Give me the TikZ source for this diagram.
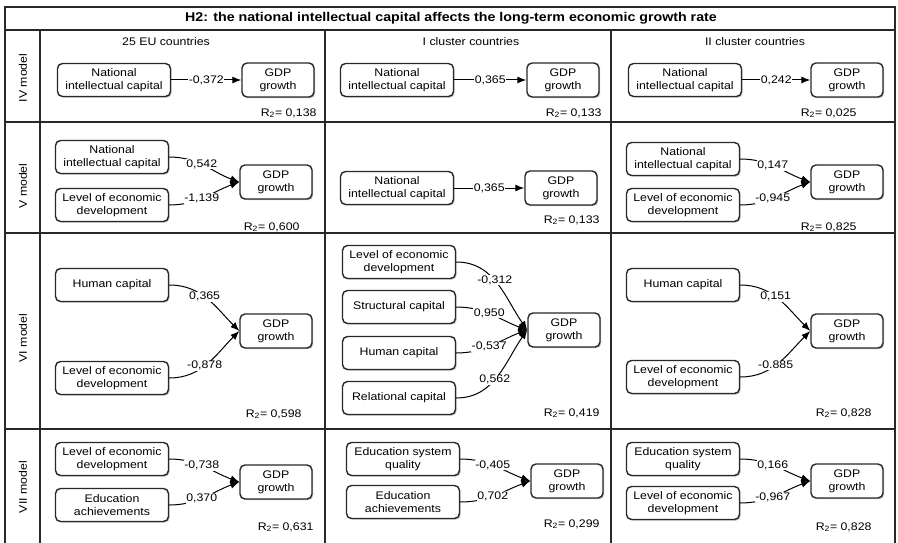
\documentclass[tikz,border=0pt]{standalone}
\usepackage{fontspec}
\setmainfont{Liberation Sans}[FakeStretch=1.12]
\usetikzlibrary{arrows.meta,shadows}
\definecolor{framegray}{RGB}{40,40,40}
\definecolor{shadowgray}{RGB}{150,150,150}

\begin{document}
\begin{tikzpicture}[x=1pt, y=1pt,
  every node/.style={font=\fontsize{11}{13}\selectfont},
  varbox/.style={draw=framegray, line width=1.4pt, rounded corners=5pt, fill=white, align=center,
    minimum width=113pt, minimum height=33pt, inner sep=1pt,
    drop shadow={shadow xshift=1.2pt, shadow yshift=-1.2pt, fill=shadowgray, opacity=0.6}},
  gdpbox/.style={varbox, minimum width=72pt, minimum height=34pt},
  link/.style={draw=black, line width=1pt, -{Latex[length=9pt,width=7pt]}},
  coef/.style={fill=white, inner sep=0.5pt},
  rsq/.style={anchor=east},
  tablerule/.style={draw=framegray, line width=1.2pt}]
  \useasboundingbox (0,0) rectangle (898,-543);

  % table frame
  \draw[tablerule] (5,-543) -- (5,-7) -- (895,-7) -- (895,-543);
  \draw[tablerule] (5,-30) -- (895,-30);
  \draw[tablerule] (5,-122) -- (895,-122);
  \draw[tablerule] (5,-233) -- (895,-233);
  \draw[tablerule] (5,-429) -- (895,-429);
  \draw[tablerule] (40,-30) -- (40,-543);
  \draw[tablerule] (325,-30) -- (325,-543);
  \draw[tablerule] (611,-30) -- (611,-543);

  \node[font=\fontsize{12.7}{14}\selectfont\bfseries] (title) at (451,-18) {H2: the national intellectual capital affects the long-term economic growth rate};
  \node (eu) at (166,-42) {25 EU countries};
  \node (cl1) at (471,-42) {I cluster countries};
  \node (cl2) at (755,-42) {II cluster countries};

  \node[rotate=90] (m4) at (23,-78) {IV model};
  \node[rotate=90] (m5) at (23,-186) {V model};
  \node[rotate=90] (m6) at (23,-338) {VI model};
  \node[rotate=90] (m7) at (23,-487) {VII model};

  % IV model
  \node[varbox] (nic4a) at (114,-80) {National\\intellectual capital};
  \node[gdpbox] (gdp4a) at (278,-80) {GDP\\growth};
  \node[varbox] (nic4b) at (397,-80) {National\\intellectual capital};
  \node[gdpbox] (gdp4b) at (563,-80) {GDP\\growth};
  \node[varbox] (nic4c) at (685,-80) {National\\intellectual capital};
  \node[gdpbox] (gdp4c) at (847,-80) {GDP\\growth};
  \draw[link] (nic4a) -- node[coef] {-0,372} (gdp4a);
  \draw[link] (nic4b) -- node[coef] {0,365} (gdp4b);
  \draw[link] (nic4c) -- node[coef] {0,242} (gdp4c);
  \node[rsq] (r4a) at (320,-113) {R\textsubscript{2}= 0,138};
  \node[rsq] (r4b) at (605,-113) {R\textsubscript{2}= 0,133};
  \node[rsq] (r4c) at (860,-113) {R\textsubscript{2}= 0,025};

  % V model
  \node[varbox] (nic5a) at (112,-157) {National\\intellectual capital};
  \node[varbox] (led5a) at (112,-205) {Level of economic\\development};
  \node[gdpbox] (gdp5a) at (276,-182) {GDP\\growth};
  \draw[link] (nic5a.east) to[out=0,in=160] node[coef,pos=0.45] {0,542} (gdp5a.west);
  \draw[link] (led5a.east) to[out=0,in=200] node[coef,pos=0.45] {-1,139} (gdp5a.west);
  \node[varbox] (nic5b) at (397,-188) {National\\intellectual capital};
  \node[gdpbox] (gdp5b) at (561,-188) {GDP\\growth};
  \draw[link] (nic5b) -- node[coef] {0,365} (gdp5b);
  \node[varbox] (nic5c) at (683,-159) {National\\intellectual capital};
  \node[varbox] (led5c) at (683,-205) {Level of economic\\development};
  \node[gdpbox] (gdp5c) at (847,-182) {GDP\\growth};
  \draw[link] (nic5c.east) to[out=0,in=160] node[coef,pos=0.45] {0,147} (gdp5c.west);
  \draw[link] (led5c.east) to[out=0,in=200] node[coef,pos=0.45] {-0,945} (gdp5c.west);
  \node[rsq] (r5a) at (303,-227) {R\textsubscript{2}= 0,600};
  \node[rsq] (r5b) at (603,-220) {R\textsubscript{2}= 0,133};
  \node[rsq] (r5c) at (860,-227) {R\textsubscript{2}= 0,825};

  % VI model
  \node[varbox] (hc6a) at (112,-285) {Human capital};
  \node[varbox] (led6a) at (112,-378) {Level of economic\\development};
  \node[gdpbox] (gdp6a) at (276,-331) {GDP\\growth};
  \draw[link] (hc6a.east) to[out=0,in=135] node[coef,pos=0.45] {0,365} (gdp6a.west);
  \draw[link] (led6a.east) to[out=0,in=225] node[coef,pos=0.45] {-0,878} (gdp6a.west);
  \node[varbox] (led6b) at (399,-262) {Level of economic\\development};
  \node[varbox] (sc6b) at (399,-307) {Structural capital};
  \node[varbox] (hc6b) at (399,-353) {Human capital};
  \node[varbox] (rc6b) at (399,-398) {Relational capital};
  \node[gdpbox] (gdp6b) at (564,-330) {GDP\\growth};
  \draw[link] (led6b.east) to[out=0,in=125] node[coef,pos=0.45] {-0,312} (gdp6b.west);
  \draw[link] (sc6b.east) to[out=0,in=160] node[coef,pos=0.45] {0,950} (gdp6b.west);
  \draw[link] (hc6b.east) to[out=0,in=200] node[coef,pos=0.45] {-0,537} (gdp6b.west);
  \draw[link] (rc6b.east) to[out=0,in=235] node[coef,pos=0.45] {0,562} (gdp6b.west);
  \node[varbox] (hc6c) at (683,-285) {Human capital};
  \node[varbox] (led6c) at (683,-377) {Level of economic\\development};
  \node[gdpbox] (gdp6c) at (847,-331) {GDP\\growth};
  \draw[link] (hc6c.east) to[out=0,in=135] node[coef,pos=0.45] {0,151} (gdp6c.west);
  \draw[link] (led6c.east) to[out=0,in=225] node[coef,pos=0.45] {-0.885} (gdp6c.west);
  \node[rsq] (r6a) at (305,-414) {R\textsubscript{2}= 0,598};
  \node[rsq] (r6b) at (603,-413) {R\textsubscript{2}= 0,419};
  \node[rsq] (r6c) at (875,-413) {R\textsubscript{2}= 0,828};

  % VII model
  \node[varbox] (led7a) at (112,-459) {Level of economic\\development};
  \node[varbox] (ea7a) at (112,-505) {Education\\achievements};
  \node[gdpbox] (gdp7a) at (276,-482) {GDP\\growth};
  \draw[link] (led7a.east) to[out=0,in=160] node[coef,pos=0.45] {-0,738} (gdp7a.west);
  \draw[link] (ea7a.east) to[out=0,in=200] node[coef,pos=0.45] {0,370} (gdp7a.west);
  \node[varbox] (esq7b) at (403,-459) {Education system\\quality};
  \node[varbox] (ea7b) at (403,-502) {Education\\achievements};
  \node[gdpbox] (gdp7b) at (567,-481) {GDP\\growth};
  \draw[link] (esq7b.east) to[out=0,in=160] node[coef,pos=0.45] {-0,405} (gdp7b.west);
  \draw[link] (ea7b.east) to[out=0,in=200] node[coef,pos=0.45] {0,702} (gdp7b.west);
  \node[varbox] (esq7c) at (683,-459) {Education system\\quality};
  \node[varbox] (led7c) at (683,-503) {Level of economic\\development};
  \node[gdpbox] (gdp7c) at (847,-481) {GDP\\growth};
  \draw[link] (esq7c.east) to[out=0,in=160] node[coef,pos=0.45] {0,166} (gdp7c.west);
  \draw[link] (led7c.east) to[out=0,in=200] node[coef,pos=0.45] {-0,967} (gdp7c.west);
  \node[rsq] (r7a) at (317,-527) {R\textsubscript{2}= 0,631};
  \node[rsq] (r7b) at (603,-524) {R\textsubscript{2}= 0,299};
  \node[rsq] (r7c) at (875,-527) {R\textsubscript{2}= 0,828};
\end{tikzpicture}
\end{document}
